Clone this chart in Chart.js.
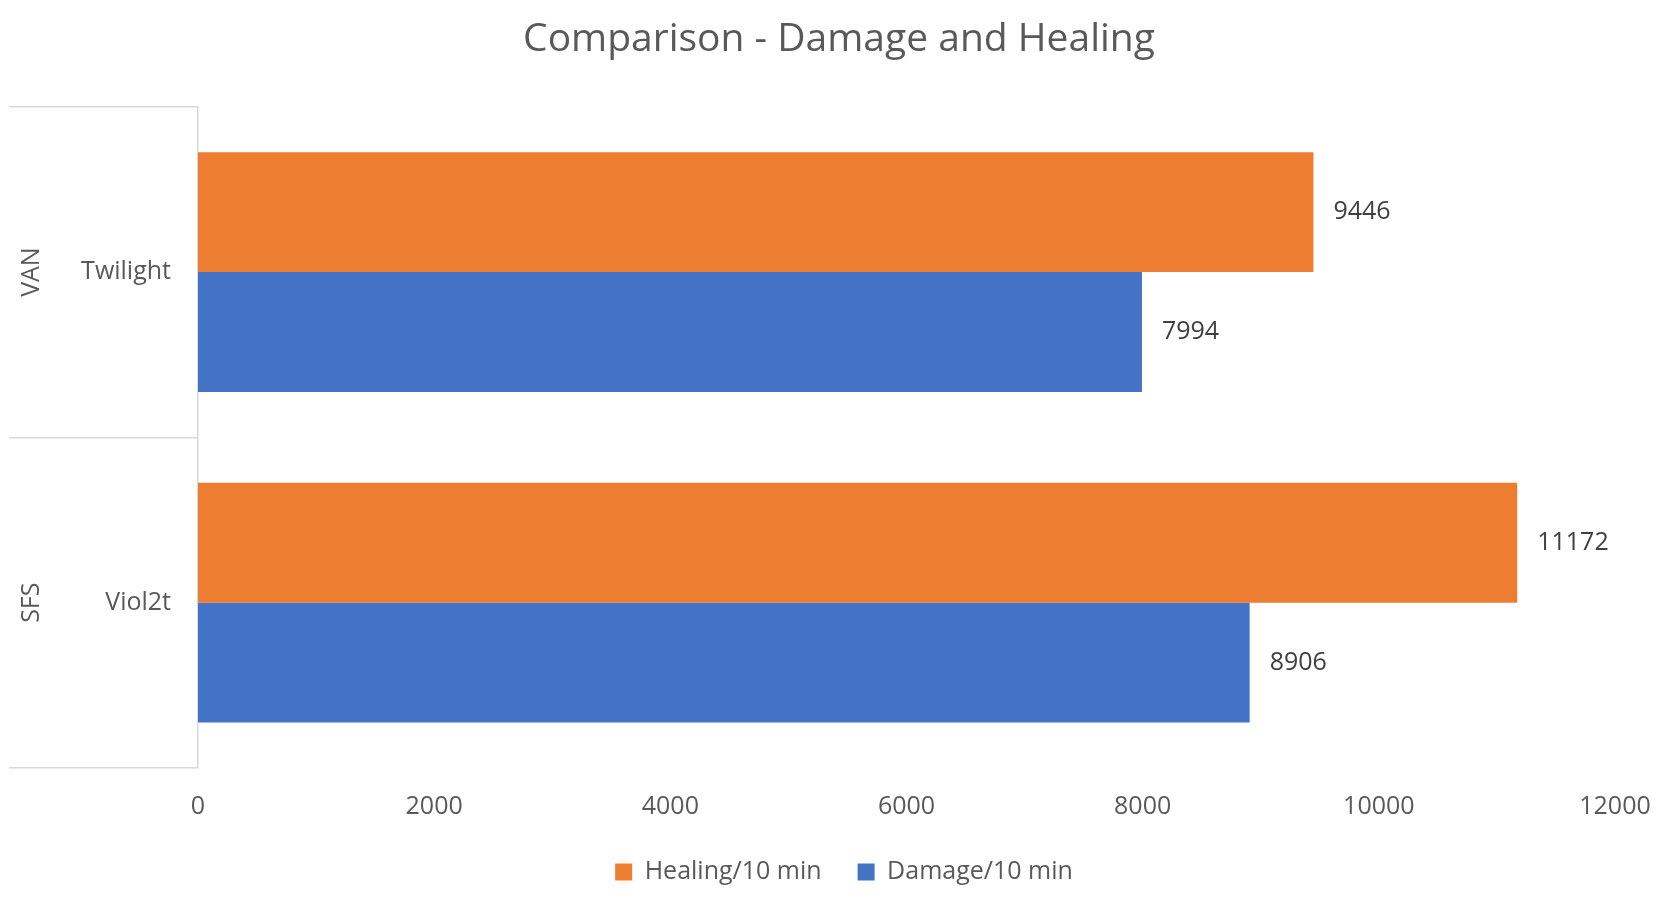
<!DOCTYPE html>
<html>
<head>
<meta charset="utf-8">
<title>Comparison - Damage and Healing</title>
<script src="https://cdn.jsdelivr.net/npm/chart.js@4.4.1/dist/chart.umd.min.js"></script>
<style>
  html, body { margin: 0; padding: 0; background: #fff; }
  #wrap { width: 1672px; height: 908px; position: relative; }
</style>
</head>
<body>
<div id="wrap"><canvas id="chart"></canvas></div>
<script>
// chart data
const players = ['Twilight', 'Viol2t'];
const teams = ['VAN', 'SFS'];
const healing = [9446, 11172];
const damage = [7994, 8906];
const xTickValues = [0, 2000, 4000, 6000, 8000, 10000, 12000];

const FONT = "'Open Sans', 'Noto Sans', sans-serif";
const GREY = '#595959';
const LINE = '#d9d9d9';

// value labels just past the end of each bar
const valueLabels = {
  id: 'valueLabels',
  afterDatasetsDraw(chart) {
    const ctx = chart.ctx;
    ctx.save();
    ctx.font = '25px ' + FONT;
    ctx.fillStyle = '#404040';
    ctx.textAlign = 'left';
    ctx.textBaseline = 'middle';
    chart.data.datasets.forEach((ds, i) => {
      chart.getDatasetMeta(i).data.forEach((bar, j) => {
        ctx.fillText(String(ds.data[j]), bar.x + 20, bar.y);
      });
    });
    ctx.restore();
  }
};

// outer level of the category axis (team names, rotated)
const groupLabels = {
  id: 'groupLabels',
  afterDraw(chart) {
    const ctx = chart.ctx;
    const y = chart.scales.y;
    ctx.save();
    ctx.font = '25px ' + FONT;
    ctx.fillStyle = GREY;
    ctx.textAlign = 'center';
    ctx.textBaseline = 'middle';
    teams.forEach((t, i) => {
      ctx.save();
      ctx.translate(32, y.getPixelForValue(i));
      ctx.rotate(-Math.PI / 2);
      ctx.fillText(t, 0, 0);
      ctx.restore();
    });
    ctx.restore();
  }
};

// title and legend sit a bit right of the plot centre, like the original
const boxShift = {
  id: 'boxShift',
  afterLayout(chart) {
    const lg = chart.legend;
    if (lg) {
      lg.left += 32;
      lg.right += 32;
      lg.top -= 14.5;
    }
    const tb = chart.titleBlock;
    if (tb) {
      tb.left += 27;
      tb.right += 27;
    }
  }
};

new Chart(document.getElementById('chart'), {
  type: 'bar',
  data: {
    labels: players,
    datasets: [
      { label: 'Healing/10 min', data: healing, backgroundColor: '#ED7D31' },
      { label: 'Damage/10 min', data: damage, backgroundColor: '#4472C4' }
    ]
  },
  options: {
    indexAxis: 'y',
    responsive: true,
    maintainAspectRatio: false,
    animation: false,
    layout: { padding: { left: 9, right: 57, top: 0, bottom: 13.5 } },
    datasets: { bar: { barPercentage: 1, categoryPercentage: 0.725 } },
    scales: {
      x: {
        min: 0,
        max: 12000,
        afterBuildTicks: (scale) => { scale.ticks = xTickValues.map(v => ({ value: v })); },
        grid: { display: false },
        border: { display: false },
        ticks: {
          color: GREY,
          font: { family: FONT, size: 25 },
          padding: 16,
          maxRotation: 0,
          callback: (v) => String(v)
        }
      },
      y: {
        afterFit: (scale) => { scale.width = 189; },
        grid: {
          offset: true,
          drawOnChartArea: false,
          drawTicks: true,
          tickLength: 189,
          color: LINE,
          lineWidth: 1.5
        },
        border: { display: true, color: LINE, width: 1.5 },
        ticks: { color: GREY, font: { family: FONT, size: 25 }, padding: -162 }
      }
    },
    plugins: {
      title: {
        display: true,
        text: 'Comparison - Damage and Healing',
        color: GREY,
        font: { family: FONT, size: 39, weight: 'normal' },
        padding: { top: 16, bottom: 44 }
      },
      legend: {
        position: 'bottom',
        maxHeight: 56.5,
        labels: {
          color: GREY,
          font: { family: FONT, size: 25 },
          boxWidth: 17,
          boxHeight: 17,
          padding: 36
        }
      },
      tooltip: { enabled: false }
    }
  },
  plugins: [valueLabels, groupLabels, boxShift]
});
</script>
</body>
</html>
